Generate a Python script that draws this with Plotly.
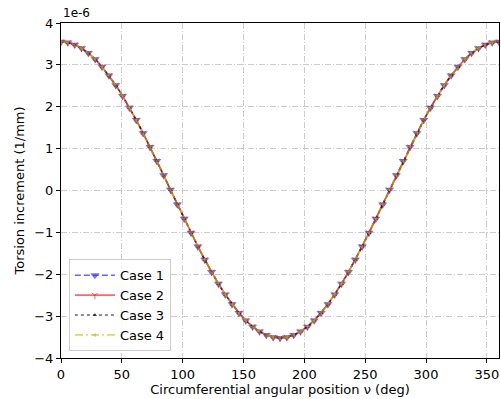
import numpy as np
import plotly.graph_objects as go

# circumferential angular position (deg)
angle_deg = np.linspace(0, 360, 65)

# torsion increment, in units of 1e-6 1/mm
half = [3.550, 3.533, 3.482, 3.398, 3.281, 3.133, 2.954, 2.748, 2.515, 2.258,
        1.979, 1.681, 1.368, 1.041, 0.705, 0.362, 0.015, -0.332, -0.675, -1.011,
        -1.338, -1.651, -1.949, -2.228, -2.485, -2.718, -2.924, -3.103, -3.251,
        -3.368, -3.452, -3.503, -3.520]
case1 = half + half[-2::-1]
case2 = [v + 0.002 for v in case1]
case3 = [v - 0.002 for v in case1]
case4 = [v + 0.001 for v in case1]

x_ticks = [0, 50, 100, 150, 200, 250, 300, 350]
y_ticks = [-4, -3, -2, -1, 0, 1, 2, 3, 4]

FONT = "DejaVu Sans"
fig = go.Figure()
fig.add_trace(go.Scatter(x=angle_deg, y=case1, name="Case 1", mode="lines+markers",
                         line=dict(color="rgba(0,0,255,0.6)", width=1.5, dash="6px,3px"),
                         marker=dict(symbol="triangle-down", size=8, color="rgba(60,60,255,0.7)",
                                     line=dict(width=0))))
fig.add_trace(go.Scatter(x=angle_deg, y=case2, name="Case 2", mode="lines+markers",
                         line=dict(color="rgba(255,0,0,0.6)", width=1.8),
                         marker=dict(symbol="y-down", size=5, color="rgba(255,0,0,0.6)",
                                     line=dict(width=1, color="rgba(255,0,0,0.6)"))))
fig.add_trace(go.Scatter(x=angle_deg, y=case3, name="Case 3", mode="lines+markers",
                         line=dict(color="rgba(0,0,0,0.6)", width=1.5, dash="dot"),
                         marker=dict(symbol="triangle-up", size=4, color="rgba(0,0,0,0.6)")))
fig.add_trace(go.Scatter(x=angle_deg, y=case4, name="Case 4", mode="lines+markers",
                         line=dict(color="rgba(191,191,0,0.6)", width=1.8, dash="8px,3px,2px,3px"),
                         marker=dict(symbol="triangle-left", size=4, color="rgba(191,191,0,0.6)")))

axis_common = dict(showline=True, linecolor="black", linewidth=1, mirror=True,
                   ticks="outside", ticklen=4, tickcolor="black", zeroline=False,
                   showgrid=True, gridcolor="#cccccc", gridwidth=1, griddash="6px,2px,1px,2px",
                   tickfont=dict(family=FONT, size=13, color="black"))
fig.update_xaxes(range=[0, 360], tickvals=x_ticks,
                 title=dict(text="Circumferential angular position ν (deg)",
                            font=dict(family=FONT, size=13, color="black"), standoff=2),
                 **axis_common)
fig.update_yaxes(range=[-4, 4], tickvals=y_ticks,
                 ticktext=[("−" + str(-v)) if v < 0 else str(v) for v in y_ticks],
                 title=dict(text="Torsion increment (1/mm)",
                            font=dict(family=FONT, size=13, color="black"), standoff=6),
                 **axis_common)
fig.add_annotation(text="1e-6", xref="paper", yref="paper", x=0, y=1, xanchor="left",
                   yanchor="bottom", showarrow=False, yshift=1,
                   font=dict(family=FONT, size=12, color="black"))
fig.update_layout(width=501, height=399, margin=dict(l=61, r=2, t=23, b=41),
                  paper_bgcolor="white", plot_bgcolor="white",
                  font=dict(family=FONT, size=13, color="black"),
                  legend=dict(x=0.018, y=0.02, xanchor="left", yanchor="bottom",
                              bgcolor="rgba(255,255,255,0.85)", bordercolor="#cccccc", borderwidth=1,
                              font=dict(family=FONT, size=13), tracegroupgap=0, itemwidth=40))
fig.write_html("out.html")
